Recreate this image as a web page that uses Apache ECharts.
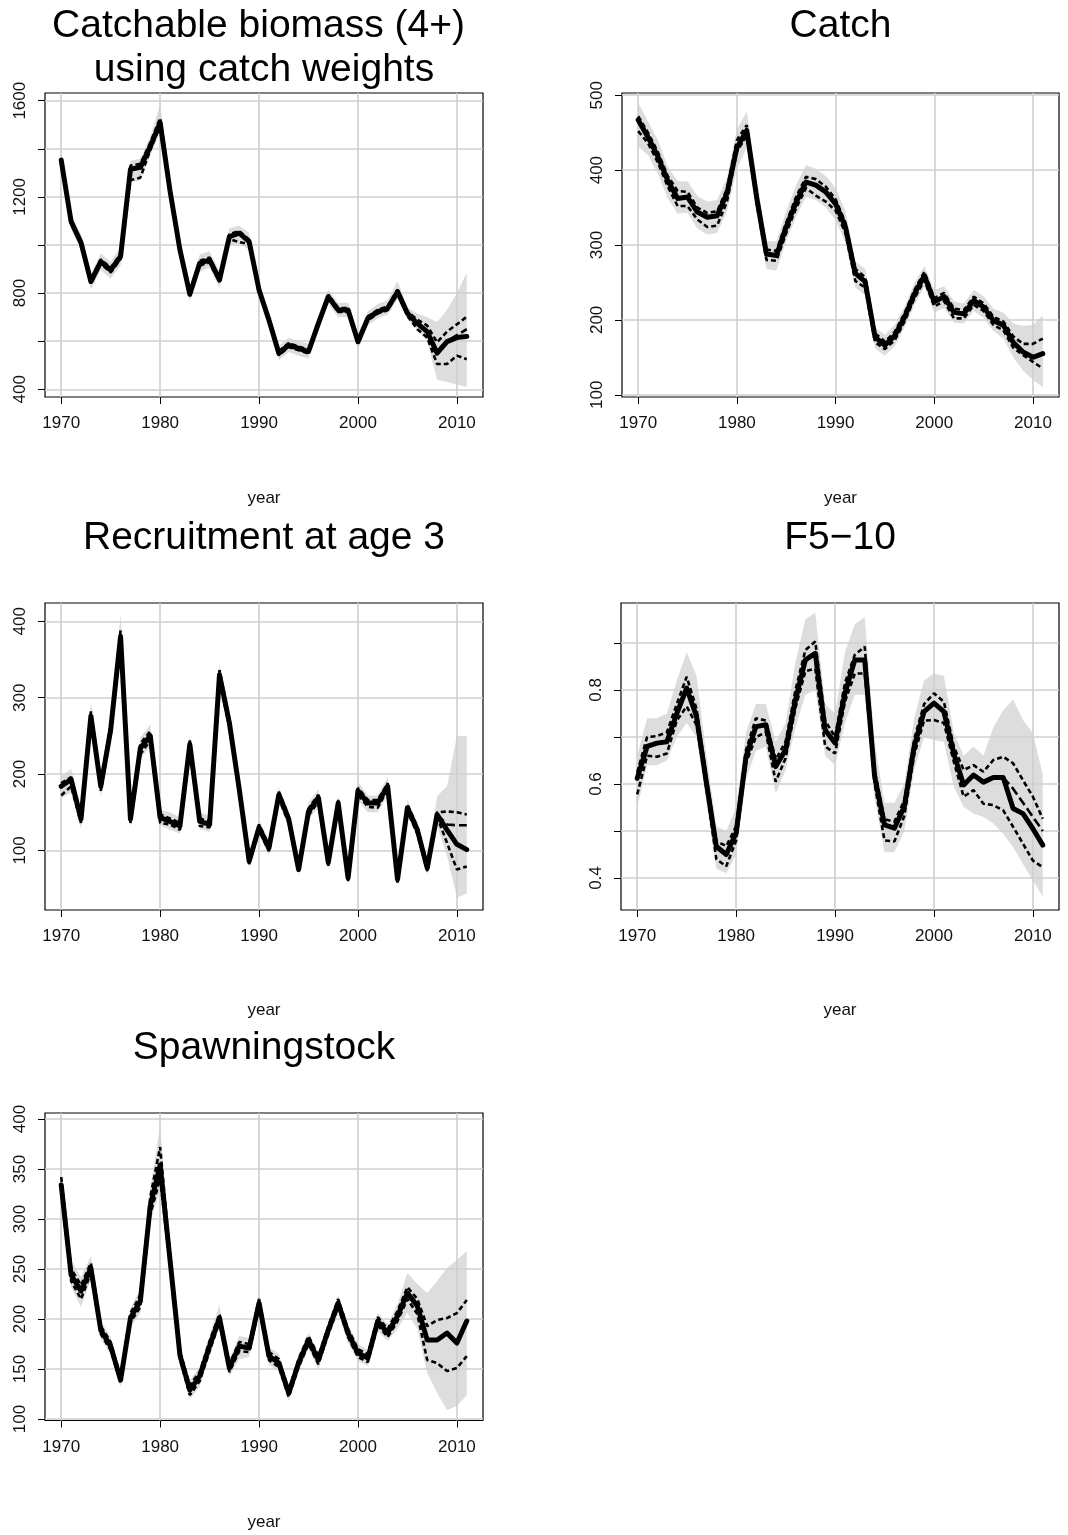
<!DOCTYPE html>
<html><head><meta charset="utf-8">
<script src="https://cdn.jsdelivr.net/npm/echarts@6/dist/echarts.min.js"></script>
<style>html,body{margin:0;padding:0;background:#fff}#c{width:1068px;height:1535px}</style>
</head><body><div id="c"></div>
<script>
// ---------- data ----------
const years = [1970,1971,1972,1973,1974,1975,1976,1977,1978,1979,1980,1981,1982,1983,1984,1985,1986,1987,1988,1989,1990,1991,1992,1993,1994,1995,1996,1997,1998,1999,2000,2001,2002,2003,2004,2005,2006,2007,2008,2009,2010,2011];
const xTicks = [1970,1980,1990,2000,2010];

// Catchable biomass (4+) using catch weights
const bioEst = [1353,1097,1010,848,931,896,952,1315,1323,1409,1509,1225,980,795,924,938,855,1035,1049,1014,813,688,550,584,570,557,674,785,730,730,598,695,723,737,806,716,674,640,550,598,615,620];
const bioHi  = [1360,1105,1018,856,940,905,962,1330,1338,1425,1528,1235,990,805,934,948,865,1045,1058,1022,822,696,558,592,578,565,682,793,738,738,606,703,731,745,814,722,690,665,595,640,670,702];
const bioLo  = [1345,1090,1002,840,922,886,942,1270,1280,1395,1495,1215,970,786,914,928,846,1025,1012,1004,805,680,542,576,562,549,666,777,722,722,590,687,715,729,798,705,650,615,505,505,540,525];
const bioMed = [null,null,null,null,null,null,null,null,null,null,null,null,null,null,null,null,null,null,null,null,null,null,null,null,null,null,null,null,null,null,null,null,null,null,null,null,null,640,560,600,625,650];
const bioBandHi = [1385,1130,1045,880,965,930,990,1350,1360,1450,1585,1265,1015,830,960,975,890,1070,1080,1050,845,720,580,615,600,590,705,815,760,760,630,725,755,770,850,740,715,700,680,730,800,885];
const bioBandLo = [1320,1065,975,815,895,860,915,1260,1270,1370,1470,1185,945,765,890,905,820,1000,1005,980,780,655,520,555,540,528,645,755,700,700,565,665,695,710,775,690,650,600,440,430,420,410];
const bioTicks = [400,600,800,1000,1200,1400,1600];
const bioLabels = [400,800,1200,1600];

// Catch
const catEst = [467,444,418,386,362,364,344,337,339,369,430,453,364,288,286,324,357,384,380,371,355,324,262,251,177,166,179,204,235,259,224,231,210,208,226,217,199,193,170,157,150,155];
const catHi  = [472,450,424,392,372,371,350,343,345,375,440,460,370,294,292,330,364,391,388,378,361,330,268,257,182,171,184,209,240,264,229,236,215,213,231,222,204,198,178,168,168,175];
const catLo  = [452,436,410,378,352,352,334,324,326,358,425,446,356,280,279,316,349,376,366,358,346,316,252,243,170,161,173,198,229,253,218,225,202,202,220,212,193,186,163,153,144,135];
const catBandHi = [490,465,440,405,385,385,365,358,360,390,455,478,390,305,305,345,380,407,402,392,376,345,278,268,190,180,193,218,250,272,240,245,225,222,240,232,215,210,195,192,193,206];
const catBandLo = [432,420,395,362,342,343,322,314,316,345,402,430,340,268,266,305,338,364,360,350,333,303,243,233,162,152,165,190,220,245,210,216,196,195,212,203,185,175,150,132,120,110];
const catTicks = [100,200,300,400,500];

// Recruitment at age 3
const recEst = [184,193,141,276,184,258,380,141,234,250,143,138,132,239,138,134,330,267,180,86,130,103,173,141,75,151,169,84,162,64,178,162,162,184,62,156,127,77,147,127,108,101];
const recHi  = [188,196,146,282,189,264,388,146,240,256,147,142,136,244,142,138,336,272,184,90,134,107,177,145,79,155,173,88,166,68,182,166,166,188,66,160,131,81,150,151,150,147];
const recLo  = [172,184,136,270,178,252,372,136,226,244,136,134,127,233,132,130,323,261,175,82,126,99,168,136,71,146,164,80,157,60,173,157,156,180,58,151,122,73,144,110,75,79];
const recMed = [null,null,null,null,null,null,null,null,null,null,null,null,null,null,null,null,null,null,null,null,null,null,null,null,null,null,null,null,null,null,null,null,null,null,null,null,null,null,147,134,133,133];
const recBandHi = [197,207,152,295,198,272,410,152,248,265,153,150,143,250,150,145,345,280,192,95,140,113,183,152,84,162,180,92,172,72,190,172,172,196,70,166,137,86,171,184,250,250];
const recBandLo = [168,176,128,258,170,244,356,130,220,236,133,127,122,226,128,124,315,254,168,78,120,94,162,130,67,140,158,76,151,56,165,150,150,172,55,145,117,68,132,93,38,44];
const recTicks = [100,200,300,400];

// F5-10
const fEst = [0.612,0.680,0.687,0.690,0.750,0.804,0.743,0.602,0.467,0.450,0.496,0.658,0.722,0.726,0.637,0.673,0.779,0.864,0.878,0.715,0.687,0.793,0.864,0.864,0.616,0.513,0.506,0.552,0.680,0.754,0.772,0.754,0.665,0.598,0.619,0.604,0.614,0.614,0.548,0.537,0.505,0.470];
const fHi  = [0.625,0.700,0.702,0.710,0.770,0.828,0.760,0.615,0.478,0.468,0.510,0.672,0.740,0.735,0.652,0.690,0.800,0.885,0.903,0.735,0.700,0.815,0.875,0.892,0.630,0.525,0.520,0.565,0.695,0.770,0.793,0.775,0.680,0.630,0.640,0.626,0.651,0.658,0.644,0.608,0.573,0.526];
const fLo  = [0.578,0.660,0.658,0.665,0.735,0.765,0.725,0.590,0.440,0.425,0.480,0.645,0.700,0.710,0.605,0.655,0.762,0.840,0.845,0.680,0.665,0.775,0.835,0.835,0.600,0.480,0.478,0.532,0.662,0.735,0.736,0.730,0.648,0.573,0.587,0.558,0.555,0.544,0.509,0.473,0.437,0.423];
const fMed = [null,null,null,null,null,null,null,null,null,null,null,null,null,null,null,null,null,null,null,null,null,null,null,null,null,null,null,null,null,null,null,null,null,null,null,null,null,0.614,0.590,0.560,0.530,0.500];
const fBandHi = [0.66,0.74,0.74,0.75,0.82,0.88,0.83,0.66,0.51,0.50,0.55,0.71,0.77,0.77,0.69,0.73,0.86,0.95,0.965,0.77,0.75,0.88,0.94,0.955,0.69,0.56,0.56,0.60,0.74,0.82,0.835,0.83,0.71,0.66,0.68,0.66,0.72,0.757,0.78,0.736,0.708,0.62];
const fBandLo = [0.55,0.64,0.64,0.65,0.70,0.73,0.70,0.56,0.42,0.41,0.45,0.61,0.67,0.68,0.58,0.63,0.72,0.79,0.80,0.66,0.64,0.73,0.79,0.79,0.57,0.455,0.455,0.50,0.63,0.70,0.693,0.69,0.594,0.551,0.537,0.53,0.516,0.494,0.466,0.43,0.395,0.36];
const fTicks = [0.4,0.5,0.6,0.7,0.8,0.9];
const fLabels = [0.4,0.6,0.8];

// Spawningstock
const ssbEst = [334,244,228,251,189,173,139,201,218,313,354,259,164,129,143,173,201,151,173,171,216,163,156,126,156,179,159,189,216,186,166,161,198,186,203,226,213,179,179,186,176,198];
const ssbHi  = [342,250,234,256,193,177,142,206,224,322,372,264,168,134,147,178,205,155,177,175,220,167,160,129,160,183,163,193,220,190,170,165,202,190,208,232,220,193,199,201,206,219];
const ssbLo  = [328,238,220,246,185,169,136,197,212,305,340,254,160,124,138,168,197,147,168,167,212,159,152,122,152,175,155,185,212,182,162,157,194,182,198,220,205,159,156,148,151,163];
const ssbBandHi = [350,258,242,263,198,182,146,211,230,330,393,270,172,139,152,184,214,160,183,181,227,172,165,133,165,186,167,197,224,194,175,169,206,195,215,246,235,226,238,251,259,268];
const ssbBandLo = [322,232,212,240,180,164,132,192,206,296,330,248,155,120,132,163,193,143,160,162,206,154,148,118,148,170,150,180,205,176,158,153,188,178,190,206,190,146,126,109,113,124];
const ssbTicks = [100,150,200,250,300,350,400];

// ---------- layout ----------
const FONT = '"Liberation Sans", Arial, Helvetica, sans-serif';
const panels = [
  {title:['Catchable biomass (4+) ','using catch weights'], ty:[26,70], box:[45,93,438,304], ymin:368, ymax:1632,
   yt:bioTicks, yl:bioLabels, est:bioEst, hi:bioHi, lo:bioLo, med:bioMed, bh:bioBandHi, bl:bioBandLo, yy:498},
  {title:['Catch'], ty:[26], box:[622,93,437,304], ymin:97, ymax:503,
   yt:catTicks, yl:catTicks, est:catEst, hi:catHi, lo:catLo, med:null, bh:catBandHi, bl:catBandLo, yy:498},
  {title:['Recruitment at age 3'], ty:[538], box:[45,603,438,307], ymin:22, ymax:424,
   yt:recTicks, yl:recTicks, est:recEst, hi:recHi, lo:recLo, med:recMed, bh:recBandHi, bl:recBandLo, yy:1010},
  {title:['F5\u221210'], ty:[538], box:[621,603,438,307], ymin:0.332, ymax:0.985,
   yt:fTicks, yl:fLabels, est:fEst, hi:fHi, lo:fLo, med:fMed, bh:fBandHi, bl:fBandLo, yy:1010},
  {title:['Spawningstock'], ty:[1048], box:[45,1113,438,307.5], ymin:98.6, ymax:406,
   yt:ssbTicks, yl:ssbTicks, est:ssbEst, hi:ssbHi, lo:ssbLo, med:null, bh:ssbBandHi, bl:ssbBandLo, yy:1522}
];
const XMIN = 1968.36, XMAX = 2012.64;
const fmt = v => String(v);

const grid = [], xAxis = [], yAxis = [], series = [], graphic = [];
const pairs = a => years.map((y,i) => [y, a[i]]);

panels.forEach((p, i) => {
  const [l,t,w,h] = p.box;
  grid.push({left:l, top:t, width:w, height:h, show:true, borderColor:'#000', borderWidth:1.2, backgroundColor:'rgba(0,0,0,0)'});
  xAxis.push({gridIndex:i, type:'value', min:XMIN, max:XMAX,
    axisLine:{show:false},
    axisTick:{show:true, length:7, customValues:xTicks, lineStyle:{color:'#000', width:1}},
    axisLabel:{customValues:xTicks, formatter:fmt, margin:18, fontSize:17, color:'#111', fontFamily:FONT},
    splitLine:{show:false}});
  yAxis.push({gridIndex:i, type:'value', min:p.ymin, max:p.ymax,
    axisLine:{show:false},
    axisTick:{show:true, length:7, customValues:p.yt, lineStyle:{color:'#000', width:1}},
    axisLabel:{customValues:p.yl, formatter:fmt, rotate:90, margin:16, fontSize:17, color:'#111', fontFamily:FONT},
    splitLine:{show:false}});
  // uncertainty band polygon
  const bandData = years.map((y,k) => [y, p.bl[k], p.bh[k]]);
  series.push({type:'custom', xAxisIndex:i, yAxisIndex:i, data:bandData, z:1, silent:true,
    encode:{x:0, y:[1,2]},
    renderItem:(params, api) => {
      if (params.dataIndex !== 0) return null;
      const pts = [];
      for (let k = 0; k < bandData.length; k++) pts.push(api.coord([bandData[k][0], bandData[k][2]]));
      for (let k = bandData.length - 1; k >= 0; k--) pts.push(api.coord([bandData[k][0], bandData[k][1]]));
      return {type:'polygon', shape:{points:pts}, style:{fill:'#dddddd', stroke:null}};
    }});
  // grid lines at tick positions
  series.push({type:'line', xAxisIndex:i, yAxisIndex:i, data:[], silent:true, z:2,
    markLine:{silent:true, symbol:['none','none'], z:2, animation:false, label:{show:false},
      lineStyle:{color:'#cfcfcf', width:1.6, type:'solid'}, emphasis:{disabled:true},
      data: xTicks.map(v=>({xAxis:v})).concat(p.yt.map(v=>({yAxis:v})))}});
  const dash = {color:'#000', width:2.6, type:[5,3], cap:'butt'};
  series.push({type:'line', xAxisIndex:i, yAxisIndex:i, data:pairs(p.hi), symbol:'none', lineStyle:dash, z:3, silent:true});
  series.push({type:'line', xAxisIndex:i, yAxisIndex:i, data:pairs(p.lo), symbol:'none', lineStyle:dash, z:3, silent:true});
  if (p.med) series.push({type:'line', xAxisIndex:i, yAxisIndex:i, data:pairs(p.med), symbol:'none',
    lineStyle:{color:'#000', width:2.6, type:[9,4]}, z:3, silent:true});
  series.push({type:'line', xAxisIndex:i, yAxisIndex:i, data:pairs(p.est), symbol:'none',
    lineStyle:{color:'#000', width:5, cap:'round', join:'round'}, z:4, silent:true});
  const cx = l + w/2;
  p.title.forEach((s, k) => graphic.push({type:'text', x:cx, y:p.ty[k], silent:true,
    style:{text:s, font:'39px ' + FONT, fill:'#000', align:'center', verticalAlign:'middle'}}));
  graphic.push({type:'text', x:cx, y:p.yy, silent:true,
    style:{text:'year', font:'17px ' + FONT, fill:'#111', align:'center', verticalAlign:'middle'}});
});

const chart = echarts.init(document.getElementById('c'), null, {renderer:'canvas'});
chart.setOption({animation:false, backgroundColor:'#fff', grid, xAxis, yAxis, series, graphic});
</script></body></html>
